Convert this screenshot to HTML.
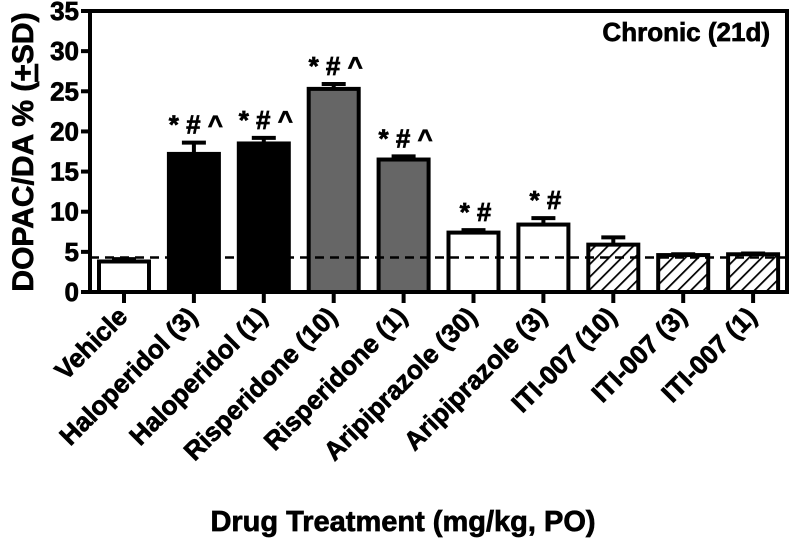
<!DOCTYPE html>
<html><head><meta charset="utf-8"><style>
html,body{margin:0;padding:0;background:#fff;}
svg{display:block;font-family:"Liberation Sans",Arial,sans-serif;font-weight:bold;}
svg text{stroke:#000;stroke-width:0.7;}
</style></head><body>
<svg id="chart" width="792" height="541" viewBox="0 0 792 541">
<defs>
<pattern id="hatch" patternUnits="userSpaceOnUse" width="9" height="9" patternTransform="rotate(45)">
<rect width="9" height="9" fill="#fff"/><line x1="0" y1="0" x2="0" y2="9" stroke="#000" stroke-width="3.5"/>
</pattern>
</defs>
<g id="plot"></g>
</svg>
<script>
const categories=["Vehicle","Haloperidol (3)","Haloperidol (1)","Risperidone (10)","Risperidone (1)","Aripiprazole (30)","Aripiprazole (3)","ITI-007 (10)","ITI-007 (3)","ITI-007 (1)"];
const values=[3.8,17.2,18.5,25.3,16.5,7.4,8.4,5.9,4.6,4.7];
const errors=[0.3,1.4,0.7,0.6,0.4,0.3,0.8,0.9,0.1,0.1];
const fills=["#fff","#000","#000","#666","#666","#fff","#fff","url(#hatch)","url(#hatch)","url(#hatch)"];
const sigs=["","* # ^","* # ^","* # ^","* # ^","* #","* #","","",""];
const yTicks=[0,5,10,15,20,25,30,35];
const baseline=4.3;

const NS="http://www.w3.org/2000/svg";
const g=document.getElementById('plot');
const x0=90,x1=787,yBot=292,yTop=11,yMax=35;
const y=v=>yBot-(v/yMax)*(yBot-yTop);
const xc=i=>124+i*69.9;
const bw=50;
function mk(t,a,txt){const e=document.createElementNS(NS,t);for(const k in a)e.setAttribute(k,a[k]);if(txt!==undefined)e.textContent=txt;g.appendChild(e);return e;}

categories.forEach((c,i)=>{
  const top=y(values[i]);
  const b=mk('rect',{x:xc(i)-bw/2,y:top,width:bw,height:yBot-top,fill:fills[i],stroke:'#000','stroke-width':4});
  
  
  const ey=y(values[i]+errors[i]);
  const e1=mk('line',{x1:xc(i),x2:xc(i),y1:top,y2:ey,stroke:'#000','stroke-width':4});
  
  
  mk('line',{x1:xc(i)-12,x2:xc(i)+12,y1:ey,y2:ey,stroke:'#000','stroke-width':4});
  if(sigs[i]){
    const s=mk('text',{x:xc(i)+2,y:ey-9,'text-anchor':'middle','font-size':26,'xml:space':'preserve'},sigs[i]);
    
    
  }
  mk('line',{x1:xc(i),x2:xc(i),y1:yBot,y2:yBot+11,stroke:'#000','stroke-width':4});
  const l=mk('text',{x:xc(i)+5,y:yBot+26,'text-anchor':'end','font-size':26,transform:`rotate(-45 ${xc(i)+5} ${yBot+26})`},c);
  
  
});
const dl=mk('line',{x1:x0,x2:x1,y1:y(baseline),y2:y(baseline),stroke:'#000','stroke-width':2.5,'stroke-dasharray':'9,6'});


yTicks.forEach(t=>{
  mk('line',{x1:x0-9,x2:x0,y1:y(t),y2:y(t),stroke:'#000','stroke-width':4});
  const tl=mk('text',{x:x0-11,y:y(t)+9,'text-anchor':'end','font-size':26},t);
  
  
});
const fr=mk('rect',{x:x0,y:yTop,width:x1-x0,height:yBot-yTop,fill:'none',stroke:'#000','stroke-width':4});


const ti=mk('text',{x:770,y:41,'text-anchor':'end','font-size':26},'Chronic (21d)');


const xt=mk('text',{x:403,y:531,'text-anchor':'middle','font-size':29},'Drug Treatment (mg/kg, PO)');


const yt=mk('text',{x:0,y:0,'text-anchor':'middle','font-size':30,transform:'translate(33 152) rotate(-90)'});
yt.innerHTML='DOPAC/DA % (<tspan text-decoration="underline">+</tspan>SD)';


</script>
</body></html>
